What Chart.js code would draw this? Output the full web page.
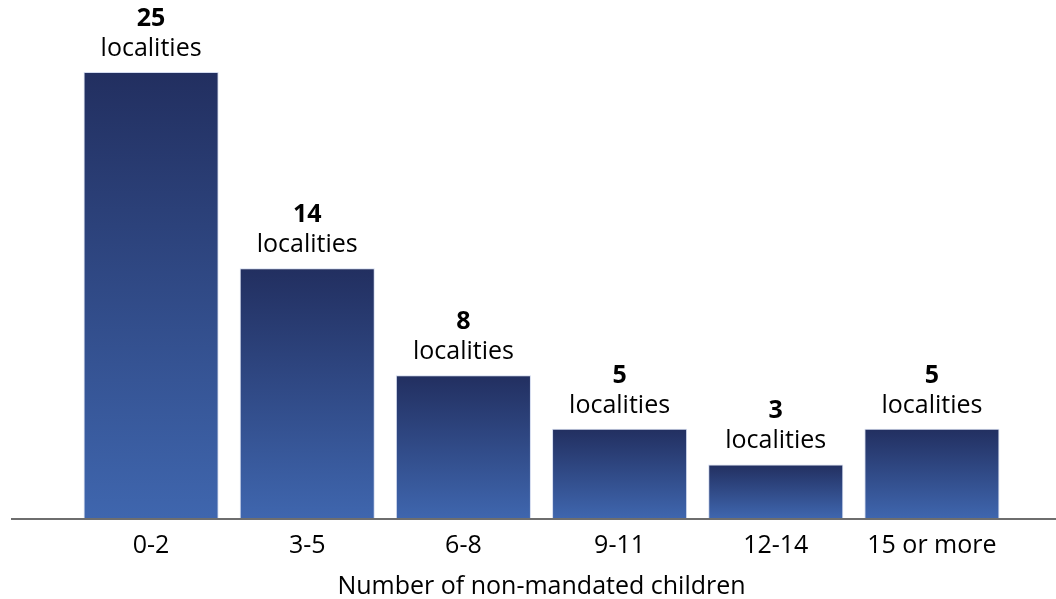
<!DOCTYPE html>
<html>
<head>
<meta charset="utf-8">
<script src="https://cdn.jsdelivr.net/npm/chart.js@4"></script>
<style>
  html, body { margin: 0; padding: 0; background: #fff; }
  #wrap { width: 1056px; height: 599px; }
</style>
</head>
<body>
<div id="wrap"><canvas id="grafico"></canvas></div>
<script>
// categorias y valores
var categorias = ['0-2', '3-5', '6-8', '9-11', '12-14', '15 or more'];
var localidades = [25, 14, 8, 5, 3, 5];
var unidad = 'localities';
var tituloX = 'Number of non-mandated children';

var fuente = '"Open Sans", Lato, sans-serif';

// degradado por barra: oscuro arriba, claro abajo
function colorBarra(context) {
    var chart = context.chart;
    var y = chart.scales && chart.scales.y;
    if (!y || context.raw === undefined) return '#2f4a8a';
    var y0 = y.getPixelForValue(context.raw);
    var y1 = y.getPixelForValue(0);
    if (!isFinite(y0) || !isFinite(y1) || y0 === y1) return '#2f4a8a';
    var g = chart.ctx.createLinearGradient(0, y0, 0, y1);
    g.addColorStop(0, '#222f60');
    g.addColorStop(1, '#3f66ae');
    return g;
}

// etiquetas encima de cada barra
var etiquetas = {
    id: 'etiquetas',
    afterDatasetsDraw: function(chart) {
        var ctx = chart.ctx;
        var meta = chart.getDatasetMeta(0);
        ctx.save();
        ctx.fillStyle = '#000';
        ctx.textAlign = 'center';
        ctx.textBaseline = 'alphabetic';
        meta.data.forEach(function(bar, i) {
            ctx.font = 'bold 25px ' + fuente;
            ctx.fillText(localidades[i], bar.x, bar.y - 46);
            ctx.font = '25px ' + fuente;
            ctx.fillText(unidad, bar.x, bar.y - 16);
        });
        ctx.restore();
    }
};

// linea base que cruza todo el ancho
var lineaBase = {
    id: 'lineaBase',
    afterDatasetsDraw: function(chart) {
        var ctx = chart.ctx;
        var y = chart.scales.y.getPixelForValue(0);
        ctx.save();
        ctx.strokeStyle = '#6e6e6e';
        ctx.lineWidth = 2;
        ctx.beginPath();
        ctx.moveTo(11, y + 1);
        ctx.lineTo(chart.width, y + 1);
        ctx.stroke();
        ctx.restore();
    }
};

var ctx = document.getElementById('grafico').getContext('2d');
var grafico = new Chart(ctx, {
    type: 'bar',
    data: {
        labels: categorias,
        datasets: [{
            label: unidad,
            data: localidades,
            backgroundColor: colorBarra,
            borderColor: 'rgba(200,210,235,0.8)',
            borderWidth: 1,
            categoryPercentage: 1,
            barPercentage: 0.865
        }]
    },
    options: {
        responsive: true,
        maintainAspectRatio: false,
        animation: false,
        layout: { padding: { top: 72, left: 73, right: 46, bottom: 0 } },
        plugins: {
            legend: { display: false },
            tooltip: { enabled: false }
        },
        scales: {
            x: {
                grid: { display: false, drawTicks: false },
                border: { display: false },
                ticks: {
                    color: '#000',
                    padding: 13,
                    font: { family: fuente, size: 25 }
                },
                title: {
                    display: true,
                    text: tituloX,
                    color: '#000',
                    padding: { top: 0, bottom: 0 },
                    font: { family: fuente, size: 25, lineHeight: 1.0 }
                }
            },
            y: {
                display: false,
                min: 0,
                max: 25
            }
        }
    },
    plugins: [etiquetas, lineaBase]
});
</script>
</body>
</html>
